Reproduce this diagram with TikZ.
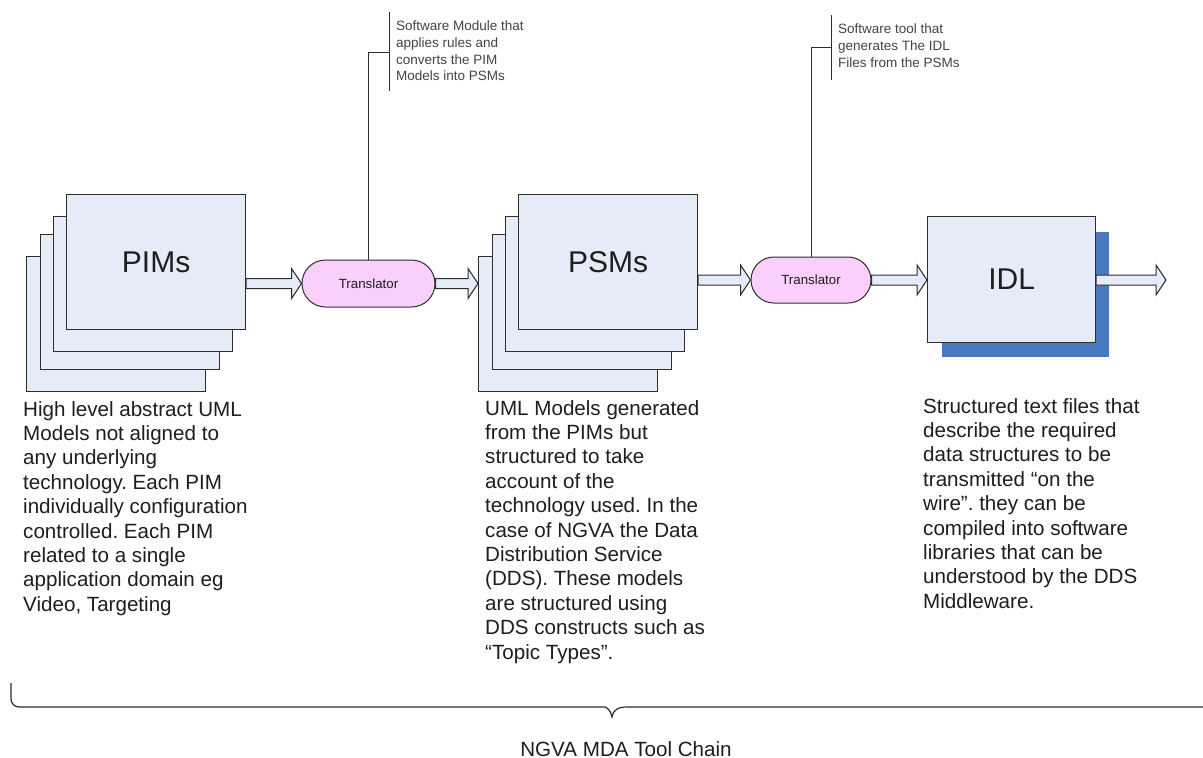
\documentclass[tikz,border=0pt]{standalone}
\usepackage{fontspec}
\setmainfont{Liberation Sans}
\usetikzlibrary{calc,shapes.misc}
\frenchspacing

\definecolor{cardfill}{HTML}{E6ECF7}
\definecolor{edge}{HTML}{2E2E2E}
\definecolor{pillfill}{HTML}{FBCFFB}
\definecolor{shadowblue}{HTML}{4A79C2}
\definecolor{ink}{HTML}{1E1E1E}
\definecolor{note}{HTML}{444444}

\tikzset{
  card/.style={draw=edge, fill=cardfill, line width=1.2pt, anchor=north west,
    inner sep=0pt, minimum width=179pt, minimum height=134.5pt,
    font=\fontsize{30}{36}\selectfont, text=ink},
  pill/.style={rounded rectangle, draw=edge, fill=pillfill, line width=1pt,
    inner sep=0pt, font=\fontsize{13.3}{16}\selectfont, text=ink},
  flow/.style={draw=edge, fill=cardfill, line width=1pt, line join=miter},
  desc/.style={anchor=north west, inner sep=0pt, align=left, text=ink,
    font=\fontsize{20.6}{24.4}\selectfont},
  notetext/.style={anchor=north west, inner sep=0pt, align=left, text=note,
    font=\fontsize{13.5}{16.6}\selectfont},
  leader/.style={draw=edge, line width=1pt},
  bracepath/.style={draw=edge, line width=1.2pt},
}

% block arrow from #1 to #2, both taken at the height of #1
\newcommand\flowarrow[2]{%
  \path[flow] let \p1=(#1), \p2=(#2) in
    (\x1,\y1+5pt) -- (\x2-10pt,\y1+5pt) -- (\x2-10pt,\y1+15pt) -- (\x2,\y1)
    -- (\x2-10pt,\y1-15pt) -- (\x2-10pt,\y1-5pt) -- (\x1,\y1-5pt) -- cycle;}

\begin{document}
\begin{tikzpicture}[x=1pt,y=-1pt]
  \useasboundingbox (0,0) rectangle (1203,758);
  \fill[white] (0,0) rectangle (1203,758);

  % PIM stack
  \node[card] (pim4) at (26,256) {};
  \node[card] (pim3) at (40,234) {};
  \node[card] (pim2) at (53,216) {};
  \node[card] (pim)  at (66,194) {PIMs};

  % PSM stack
  \node[card] (psm4) at (478,256) {};
  \node[card] (psm3) at (492,234) {};
  \node[card] (psm2) at (505,216) {};
  \node[card] (psm)  at (518,194) {PSMs};

  % IDL box with its drop shadow
  \fill[shadowblue] (942,232) rectangle (1109,357);
  \node[card, minimum width=168pt, minimum height=126pt] (idl) at (927,216) {IDL};

  % translators
  \node[pill, minimum width=133pt, minimum height=47pt] (tr1) at (368.5,283.5) {Translator};
  \node[pill, minimum width=120pt, minimum height=46pt] (tr2) at (811,280) {Translator};
  \coordinate (out) at (1166,280);

  % flow arrows
  \flowarrow{pim.east |- tr1.west}{tr1.west}
  \flowarrow{tr1.east}{psm4.west |- tr1.east}
  \flowarrow{psm.east |- tr2.west}{tr2.west}
  \flowarrow{tr2.east}{idl.west |- tr2.east}
  \flowarrow{idl.east |- tr2.east}{out |- tr2.east}

  % callout of the first translator
  \coordinate (c1elbow) at (389,52);
  \coordinate (c1top) at (389,12);
  \coordinate (c1bot) at (389,91);
  \draw[leader] (tr1.north) |- (c1elbow);
  \draw[leader] (c1top) -- (c1bot);
  \node[notetext] (c1) at (396,21) {Software Module that\\applies rules and\\converts the PIM\\Models into PSMs};

  % callout of the second translator
  \coordinate (c2elbow) at (831,47);
  \coordinate (c2top) at (831,15);
  \coordinate (c2bot) at (831,80);
  \draw[leader] (tr2.north) |- (c2elbow);
  \draw[leader] (c2top) -- (c2bot);
  \node[notetext] (c2) at (838,24) {Software tool that\\generates The IDL\\Files from the PSMs};

  % descriptions
  \node[desc] (pimtext) at (23,401) {High level abstract UML\\Models not aligned to\\any underlying\\technology. Each PIM\\individually configuration\\controlled. Each PIM\\related to a single\\application domain eg\\Video, Targeting};
  \node[desc] (psmtext) at (485,400) {UML Models generated\\from the PIMs but\\structured to take\\account of the\\technology used. In the\\case of NGVA the Data\\Distribution Service\\(DDS). These models\\are structured using\\DDS constructs such as\\“Topic Types”.};
  \node[desc] (idltext) at (923,398) {Structured text files that\\describe the required\\data structures to be\\transmitted “on the\\wire”. they can be\\compiled into software\\libraries that can be\\understood by the DDS\\Middleware.};

  % brace under the whole chain
  \coordinate (brL) at (11,683);
  \coordinate (brTip) at (612,717);
  \coordinate (brR) at (1203,707);
  \draw[bracepath, rounded corners=8pt] (brL) |- (597,707)
    [sharp corners] .. controls (606,707) and (611,710) .. (brTip)
    .. controls (613,710) and (618,707) .. (627,707) -- (brR);
  \node[anchor=base, text=ink, font=\fontsize{20.6}{24}\selectfont] (chain) at (626,756) {NGVA MDA Tool Chain};
\end{tikzpicture}
\end{document}
